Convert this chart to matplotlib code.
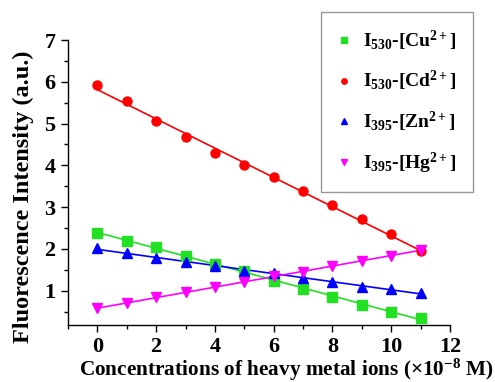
import numpy as np
import matplotlib
matplotlib.use("Agg")
import matplotlib.pyplot as plt
from matplotlib.ticker import MultipleLocator

plt.rcParams['font.family'] = ['Liberation Serif', 'DejaVu Serif']
plt.rcParams['font.weight'] = 'bold'
plt.rcParams['mathtext.fontset'] = 'custom'
plt.rcParams['mathtext.rm'] = 'Liberation Serif:bold'
plt.rcParams['mathtext.it'] = 'Liberation Serif:bold'
plt.rcParams['mathtext.bf'] = 'Liberation Serif:bold'

conc = np.arange(12)
cu = [2.38, 2.20, 2.04, 1.84, 1.64, 1.47, 1.24, 1.05, 0.84, 0.66, 0.50, 0.35]
cd = [5.92, 5.54, 5.06, 4.67, 4.29, 4.02, 3.72, 3.38, 3.04, 2.71, 2.35, 1.94]
zn = [2.02, 1.91, 1.79, 1.68, 1.58, 1.48, 1.42, 1.31, 1.22, 1.10, 1.03, 0.95]
hg = [0.58, 0.71, 0.84, 0.96, 1.08, 1.20, 1.36, 1.46, 1.60, 1.72, 1.82, 1.98]

labels = [r'I$_{530}$-[Cu$^{2+}$]', r'I$_{530}$-[Cd$^{2+}$]',
          r'I$_{395}$-[Zn$^{2+}$]', r'I$_{395}$-[Hg$^{2+}$]']
colors = ['#22e022', '#ff0000', '#0000ff', '#ff00ff']
markers = ['s', 'o', '^', 'v']
series = [cu, cd, zn, hg]

fig = plt.figure(figsize=(4.95, 3.82), dpi=100)
ax = fig.add_axes([68/495, 57/382, 382/495, 285/382])

for y, c, m, lab in zip(series, colors, markers, labels):
    y = np.asarray(y)
    k, b = np.polyfit(conc, y, 1)
    ax.plot(conc, k*conc + b, color=c, lw=1.2, zorder=2)
    ax.plot(conc, y, ls='none', marker=m, color=c, ms=6.5, label=lab, zorder=3)

ax.set_xlim(-1, 12)
ax.set_ylim(0.18, 7)
ax.xaxis.set_major_locator(MultipleLocator(2))
ax.xaxis.set_minor_locator(MultipleLocator(1))
ax.yaxis.set_major_locator(MultipleLocator(1))
ax.yaxis.set_minor_locator(MultipleLocator(0.5))
ax.set_yticks([1, 2, 3, 4, 5, 6, 7])
for s in ['top', 'right']:
    ax.spines[s].set_visible(False)
for s in ['left', 'bottom']:
    ax.spines[s].set_linewidth(1.0)
ax.tick_params(which='major', direction='out', length=5, width=1, labelsize=16, pad=4)
ax.tick_params(which='minor', direction='out', length=3, width=1)
for t in ax.get_xticklabels() + ax.get_yticklabels():
    t.set_fontweight('bold')

ax.set_xlabel(r'Concentrations of heavy metal ions ($\times$10$^{-8}$ M)',
              fontsize=15.3, fontweight='bold')
ax.xaxis.set_label_coords((286 - 68) / 382, -(357 - 325) / 285)
ax.set_ylabel('Fluorescence Intensity (a.u.)', fontsize=17.5, fontweight='bold')
ax.yaxis.set_label_coords(-(68 - 34) / 382, (325 - 197) / 285)

leg = ax.legend(loc='upper right', bbox_to_anchor=(473/495, 370/382), bbox_transform=fig.transFigure,
                frameon=True, fancybox=False, fontsize=14, handlelength=0.6,
                handletextpad=0.7, labelspacing=0.85, borderpad=0.85, borderaxespad=0,
                markerscale=0.6)
leg.get_frame().set_edgecolor('#808080')
leg.get_frame().set_linewidth(1.0)

fig.savefig('out.png', dpi=100)
